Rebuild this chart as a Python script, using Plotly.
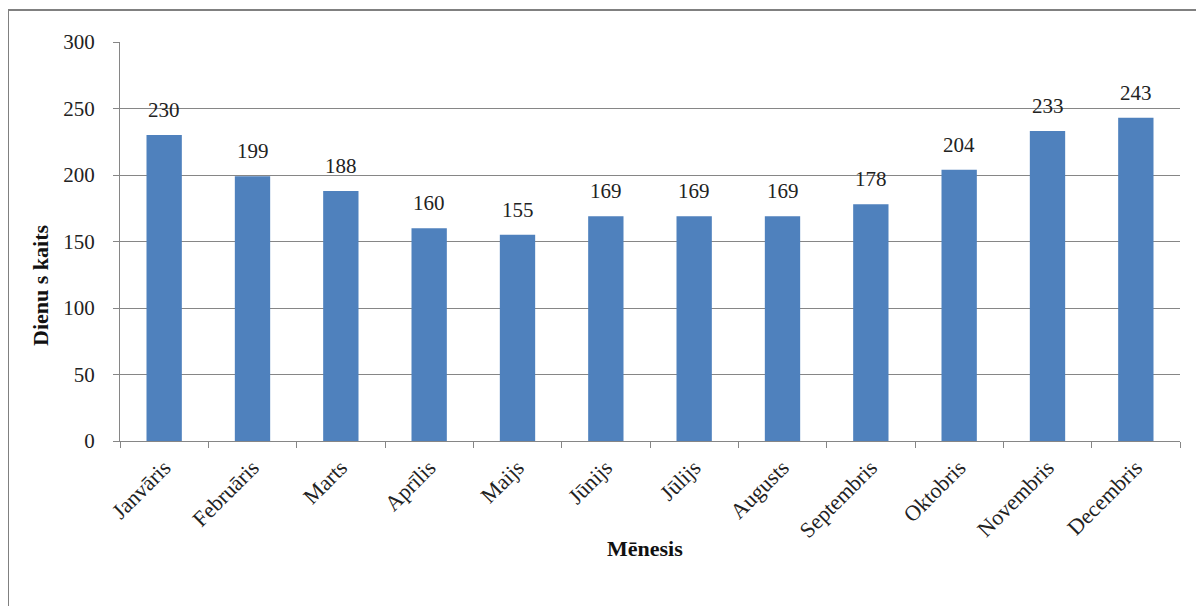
import plotly.graph_objects as go

months = ["Janvāris", "Februāris", "Marts", "Aprīlis", "Maijs", "Jūnijs",
          "Jūlijs", "Augusts", "Septembris", "Oktobris", "Novembris", "Decembris"]
days = [230, 199, 188, 160, 155, 169, 169, 169, 178, 204, 233, 243]
y_ticks = [0, 50, 100, 150, 200, 250, 300]

FONT = "Liberation Serif, Times New Roman, serif"
OFF = 8  # page body margin
W, H = 1204 - OFF, 606 - OFF
L, R, T, B = 120 - OFF, 24, 42 - OFF, 165
pw, ph = W - L - R, H - T - B

def px_x(x):
    return (x - OFF - L) / pw

def px_y(y):
    return (H - B - (y - OFF)) / ph

fig = go.Figure()
fig.add_trace(go.Bar(x=months, y=days, marker=dict(color="#4F81BD", line=dict(width=0)),
                     hoverinfo="x+y"))

for m, v in zip(months, days):
    fig.add_annotation(x=m, y=v, text=str(v), showarrow=False, yshift=25,
                       xanchor="center", yanchor="middle",
                       font=dict(family=FONT, size=21, color="#222"))

fig.add_annotation(xref="paper", yref="paper", x=px_x(645), y=px_y(548), text="<b>Mēnesis</b>",
                   xanchor="center", yanchor="middle",
                   showarrow=False, font=dict(family=FONT, size=22, color="#111"))
fig.add_annotation(xref="paper", yref="paper", x=px_x(40), y=px_y(286), text="<b>Dienu s kaits</b>",
                   xanchor="center", yanchor="middle",
                   textangle=-90, showarrow=False, font=dict(family=FONT, size=22, color="#111"))

# outer chart border (top and left visible)
fig.add_shape(type="line", xref="paper", yref="paper", x0=px_x(8), x1=px_x(1210), y0=px_y(10), y1=px_y(10),
              line=dict(color="#808080", width=2))
fig.add_shape(type="line", xref="paper", yref="paper", x0=px_x(8), x1=px_x(8), y0=px_y(10), y1=px_y(610),
              line=dict(color="#808080", width=2))

fig.update_layout(
    width=W, height=H, margin=dict(l=L, r=R, t=T, b=B),
    paper_bgcolor="white", plot_bgcolor="white", bargap=0.6, showlegend=False,
    font=dict(family=FONT, size=21, color="#222"),
)
fig.update_xaxes(type="category", tickangle=-45, tickson="boundaries", ticks="outside", ticklen=6,
                 tickcolor="#868686", showline=True, linecolor="#868686", linewidth=1,
                 tickfont=dict(family=FONT, size=22, color="#222"), showgrid=False,
                 ticklabelstandoff=4)
fig.update_yaxes(range=[0, 300], tickvals=y_ticks, ticks="outside", ticklen=6, tickcolor="#868686",
                 showline=True, linecolor="#868686", linewidth=1, showgrid=True, gridcolor="#868686",
                 gridwidth=1, zeroline=False, tickfont=dict(family=FONT, size=21, color="#222"),
                 ticklabelstandoff=14)

fig.write_html("out.html")
